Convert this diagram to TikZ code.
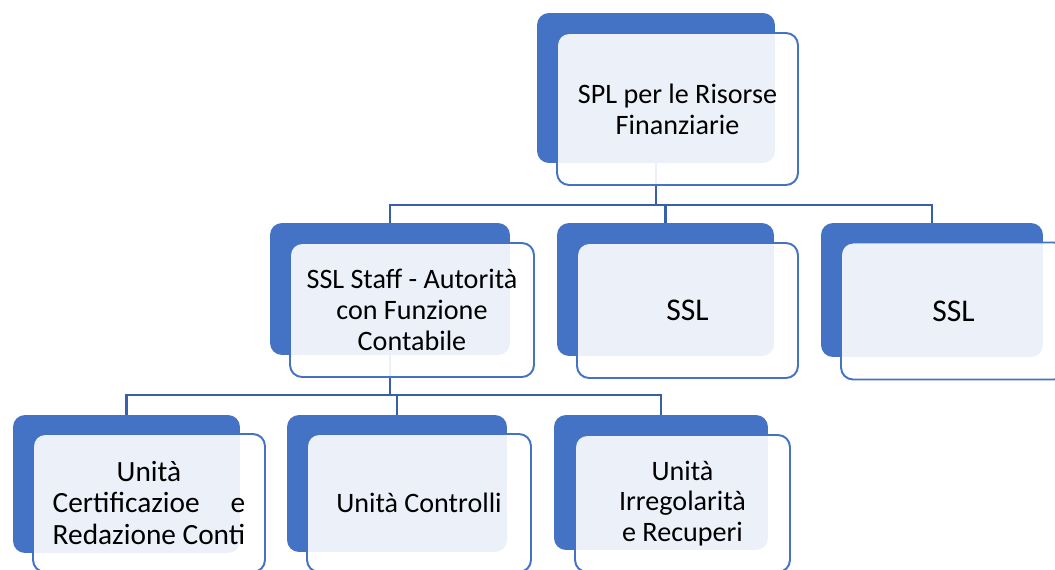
\documentclass[tikz,border=0pt]{standalone}
\usepackage{fontspec}
\setmainfont{Carlito}
\usepackage{calc}
\usetikzlibrary{calc}
\definecolor{accblue}{RGB}{68,114,196}
\definecolor{linkblue}{RGB}{55,95,170}
\tikzset{
  back/.style={fill=accblue, rounded corners=0.24cm, inner sep=0pt},
  front/.style={draw=accblue, line width=1.1pt, fill=white, fill opacity=0.9, text opacity=1,
    rounded corners=0.24cm, inner sep=0pt, align=center, font=\fontsize{16}{17.5}\selectfont},
  link/.style={draw=linkblue, line width=1.2pt},
}
\begin{document}
\begin{tikzpicture}[x=0.02cm,y=-0.02cm]
                \clip (0,0) rectangle (1055,569);
                %% back plates
                \node[back, minimum width=4.76cm, minimum height=3cm] (spl-b) at (656,88) {};
                \node[back, minimum width=4.8cm, minimum height=2.64cm] (staff-b) at (390,289) {};
                \node[back, minimum width=4.34cm, minimum height=2.66cm] (sslb-b) at (665.5,289.5) {};
                \node[back, minimum width=4.44cm, minimum height=2.68cm] (sslc-b) at (932,290) {};
                \node[back, minimum width=4.54cm, minimum height=2.76cm] (cert-b) at (126.5,484) {};
                \node[back, minimum width=4.4cm, minimum height=2.74cm] (contr-b) at (397,483.5) {};
                \node[back, minimum width=4.28cm, minimum height=2.7cm] (irr-b) at (661,482.5) {};
                %% links
                \draw[link] (spl-b.south) -- ++(0,42) -| (staff-b.north);
                \draw[link] (spl-b.south) -- ++(0,42) -| (sslb-b.north);
                \draw[link] (spl-b.south) -- ++(0,42) -| (sslc-b.north);
                \draw[link] (staff-b.south) -- ++(0,40) -| (cert-b.north);
                \draw[link] (staff-b.south) -- ++(0,40) -| (contr-b.north);
                \draw[link] (staff-b.south) -- ++(0,40) -| (irr-b.north);
                %% front plates
                \node[front, minimum width=4.82cm, minimum height=3.04cm] (spl) at ($(spl-b)+(21.5,21)$) {SPL per le Risorse\\Finanziarie};
                \node[front, minimum width=4.88cm, minimum height=2.68cm] (staff) at ($(staff-b)+(22,21)$) {SSL Staff - Autorità\\con Funzione\\Contabile};
                \node[front, minimum width=4.42cm, minimum height=2.7cm, font=\fontsize{18}{20}\selectfont] (sslb) at ($(sslb-b)+(22,21)$) {SSL};
                \node[front, minimum width=4.5cm, minimum height=2.74cm, font=\fontsize{18}{20}\selectfont] (sslc) at ($(sslc-b)+(21.5,21)$) {SSL};
                \node[front, minimum width=4.64cm, minimum height=2.76cm, font=\fontsize{16.7}{18}\selectfont] (cert) at ($(cert-b)+(22.5,19)$) {Unità\\\makebox[\widthof{Redazione Conti}][s]{Certificazioe\hfill e}\\Redazione Conti};
                \node[front, minimum width=4.48cm, minimum height=2.76cm] (contr) at ($(contr-b)+(22,19.5)$) {Unità Controlli};
                \node[front, minimum width=4.3cm, minimum height=2.74cm] (irr) at ($(irr-b)+(21.5,21)$) {Unità\\Irregolarità\\e Recuperi};
            \end{tikzpicture}
\end{document}
